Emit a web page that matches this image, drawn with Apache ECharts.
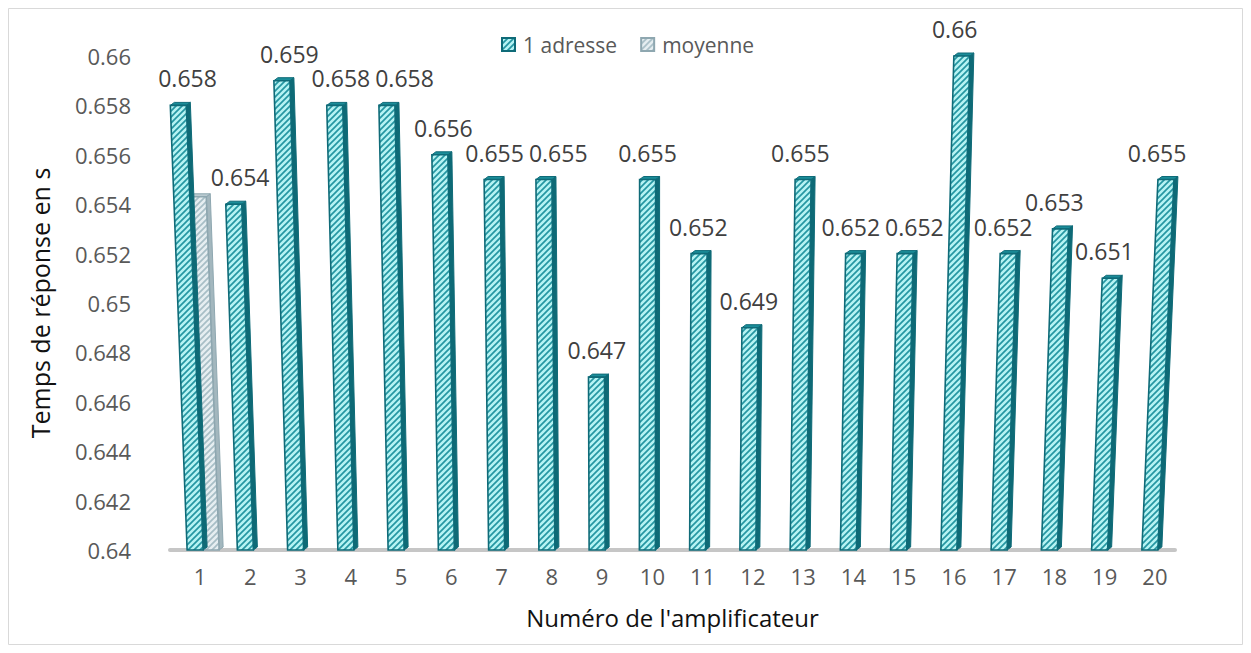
<!DOCTYPE html>
<html>
<head>
<meta charset="utf-8">
<script src="https://cdn.jsdelivr.net/npm/echarts@6/dist/echarts.min.js"></script>
<style>
  html, body { margin: 0; padding: 0; background: #ffffff; }
  #chart { width: 1251px; height: 653px; }
</style>
</head>
<body>
<div id="chart"></div>
<script>
// Amplifier numbers on the category axis
const categories = ['1','2','3','4','5','6','7','8','9','10','11','12','13','14','15','16','17','18','19','20'];

// Response time (s) with a single address, per amplifier
const adresseValues = [0.658, 0.654, 0.659, 0.658, 0.658, 0.656, 0.655, 0.655, 0.647, 0.655,
                       0.652, 0.649, 0.655, 0.652, 0.652, 0.660, 0.652, 0.653, 0.651, 0.655];

// Mean response time, shown only next to the first amplifier
const moyenneValues = [0.6543, null, null, null, null, null, null, null, null, null,
                       null, null, null, null, null, null, null, null, null, null];

// Value axis range
const yMin = 0.64;
const yMax = 0.66;
const yStep = 0.002;

const FONT = '"Open Sans", Lato, sans-serif';

// Diagonal hatch tile used as a fill pattern
function hatchTile(bg, fg) {
  const s = 6;
  const c = document.createElement('canvas');
  c.width = s; c.height = s;
  const g = c.getContext('2d');
  g.fillStyle = bg;
  g.fillRect(0, 0, s, s);
  g.strokeStyle = fg;
  g.lineWidth = 1.7;
  g.beginPath();
  g.moveTo(0, s); g.lineTo(s, 0);
  g.moveTo(-s / 2, s / 2); g.lineTo(s / 2, -s / 2);
  g.moveTo(s / 2, s * 1.5); g.lineTo(s * 1.5, s / 2);
  g.stroke();
  return c;
}

const palette = {
  adresse: { bg: '#b6f3f3', stripe: '#2596a2', border: '#0f6b78', side: '#0e6a76', top: '#1b8d99' },
  moyenne: { bg: '#e6eef1', stripe: '#a7bec6', border: '#8ea7b0', side: '#a3b7be', top: '#b9cad0' }
};

const adressePattern = { image: hatchTile(palette.adresse.bg, palette.adresse.stripe), repeat: 'repeat' };
const moyennePattern = { image: hatchTile(palette.moyenne.bg, palette.moyenne.stripe), repeat: 'repeat' };

// Slight perspective: columns lean away from the middle of the plot as they rise
const LEAN_K = 8.5e-5;
const LEAN_X0 = 640;
const BAR_W = 16;
const DEPTH_X = 4;
const DEPTH_Y = 3;

// Value labels
const LABEL_SIZE = 23;
const LABEL_H = 22;
const measureCtx = document.createElement('canvas').getContext('2d');
measureCtx.font = LABEL_SIZE + 'px ' + FONT;
function textWidth(t) { return measureCtx.measureText(t).width; }

function makeRenderer(colors, pattern, offset, withLabel) {
  let placed = [];
  return function (params, api) {
    if (params.dataIndex === 0) placed = [];
    const v = api.value(1);
    if (v == null || isNaN(v)) return;
    const idx = api.value(0);
    const base = api.coord([idx, yMin]);
    const top = api.coord([idx, v]);
    const cx = base[0] + offset;
    const h = base[1] - top[1];
    const lean = LEAN_K * (cx - LEAN_X0) * h;

    const bl = [cx - BAR_W / 2, base[1]];
    const br = [cx + BAR_W / 2, base[1]];
    const tl = [cx - BAR_W / 2 + lean, top[1]];
    const tr = [cx + BAR_W / 2 + lean, top[1]];
    const sh = (p) => [p[0] + DEPTH_X, p[1] - DEPTH_Y];

    const children = [
      {
        type: 'polygon',
        shape: { points: [br, sh(br), sh(tr), tr] },
        style: { fill: colors.side, stroke: colors.border, lineWidth: 1 }
      },
      {
        type: 'polygon',
        shape: { points: [tl, tr, sh(tr), sh(tl)] },
        style: { fill: colors.top, stroke: colors.border, lineWidth: 1 }
      },
      {
        type: 'polygon',
        shape: { points: [bl, br, tr, tl] },
        style: { fill: pattern, stroke: colors.border, lineWidth: 1.6 }
      }
    ];

    if (withLabel) {
      const text = String(v);
      const w = textWidth(text);
      let lx = base[0] + 0.45 * lean;
      const ly = top[1] - 27;
      // push a label to the right when it would collide with the previous one
      const prev = placed[placed.length - 1];
      if (prev && Math.abs(prev.y - ly) < LABEL_H && lx - w / 2 < prev.right + 5) {
        lx = prev.right + 5 + w / 2;
      }
      placed.push({ y: ly, right: lx + w / 2 });
      children.push({
        type: 'text',
        style: {
          text: text,
          x: lx,
          y: ly,
          align: 'center',
          verticalAlign: 'middle',
          fontSize: LABEL_SIZE,
          fontFamily: FONT,
          fill: '#404040'
        }
      });
    }
    return { type: 'group', children: children };
  };
}

const chart = echarts.init(document.getElementById('chart'), null, { renderer: 'svg' });

chart.setOption({
  backgroundColor: '#ffffff',
  animation: false,
  graphic: [{
    type: 'rect',
    shape: { x: 8.5, y: 8.5, width: 1234, height: 636 },
    style: { fill: 'none', stroke: '#d9d9d9', lineWidth: 1 },
    silent: true,
    z: -10
  }],
  legend: {
    left: 496,
    top: 29,
    itemWidth: 13,
    itemHeight: 13,
    itemGap: 23,
    icon: 'rect',
    textStyle: { fontSize: 21, color: '#595959', fontFamily: FONT, padding: [0, 0, 0, 3] },
    data: ['1 adresse', 'moyenne']
  },
  grid: { left: 170, right: 76, top: 56, bottom: 103, containLabel: false },
  xAxis: {
    type: 'category',
    data: categories,
    boundaryGap: true,
    name: "Numéro de l'amplificateur",
    nameLocation: 'middle',
    nameGap: 55,
    nameTextStyle: { fontSize: 24, color: '#111111', fontFamily: FONT },
    axisLine: { show: true, lineStyle: { color: '#c6c6c6', width: 4 } },
    axisTick: { show: false },
    axisLabel: {
      fontSize: 22,
      color: '#595959',
      fontFamily: FONT,
      margin: 15,
      padding: [0, 0, 0, 10]
    },
    splitLine: { show: false }
  },
  yAxis: {
    type: 'value',
    min: yMin,
    max: yMax,
    interval: yStep,
    name: 'Temps de réponse en s',
    nameLocation: 'middle',
    nameGap: 118,
    nameRotate: 90,
    nameTextStyle: { fontSize: 25, color: '#111111', fontFamily: FONT },
    axisLine: { show: false },
    axisTick: { show: false },
    splitLine: { show: false },
    axisLabel: {
      fontSize: 22,
      color: '#595959',
      fontFamily: FONT,
      margin: 39,
      formatter: (val) => String(+val.toFixed(3))
    }
  },
  series: [
    {
      name: '1 adresse',
      type: 'custom',
      clip: false,
      z: 3,
      itemStyle: { color: adressePattern, borderColor: palette.adresse.border, borderWidth: 1.5 },
      encode: { x: 0, y: 1 },
      renderItem: makeRenderer(palette.adresse, adressePattern, 0, true),
      data: adresseValues.map((v, i) => [i, v])
    },
    {
      name: 'moyenne',
      type: 'custom',
      clip: false,
      z: 2,
      itemStyle: { color: moyennePattern, borderColor: palette.moyenne.border, borderWidth: 1.5 },
      encode: { x: 0, y: 1 },
      renderItem: makeRenderer(palette.moyenne, moyennePattern, BAR_W, false),
      data: moyenneValues.map((v, i) => [i, v])
    }
  ]
});
</script>
</body>
</html>
